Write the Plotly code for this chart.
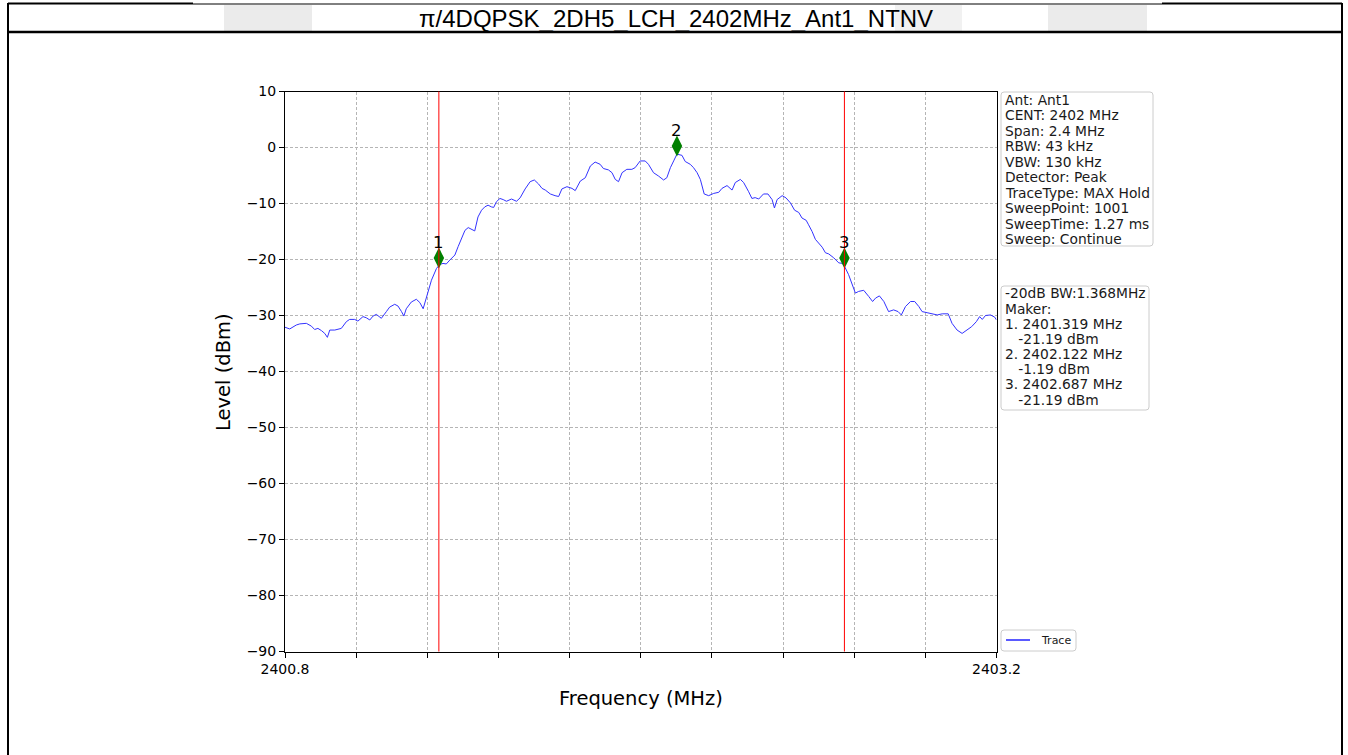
import plotly.graph_objects as go

W, H = 1348, 755

# ---------------- data ----------------
freq_mhz = [
    2400.800, 2400.816, 2400.838, 2400.850, 2400.872, 2400.889, 2400.900, 2400.911,
    2400.923, 2400.934, 2400.943, 2400.951, 2400.968, 2400.990, 2401.007, 2401.018,
    2401.035, 2401.046, 2401.063, 2401.074, 2401.086, 2401.097, 2401.108, 2401.125,
    2401.142, 2401.153, 2401.170, 2401.181, 2401.193, 2401.201, 2401.209, 2401.226,
    2401.243, 2401.255, 2401.266, 2401.277, 2401.294, 2401.311, 2401.322, 2401.333,
    2401.344, 2401.356, 2401.373, 2401.384, 2401.395, 2401.407, 2401.418, 2401.429,
    2401.440, 2401.451, 2401.463, 2401.474, 2401.485, 2401.496, 2401.504, 2401.513,
    2401.525, 2401.536, 2401.547, 2401.564, 2401.581, 2401.593, 2401.610, 2401.627,
    2401.641, 2401.655, 2401.667, 2401.678, 2401.695, 2401.711, 2401.723, 2401.734,
    2401.751, 2401.768, 2401.779, 2401.796, 2401.813, 2401.830, 2401.846, 2401.863,
    2401.874, 2401.891, 2401.903, 2401.914, 2401.925, 2401.937, 2401.953, 2401.970,
    2401.981, 2401.998, 2402.015, 2402.026, 2402.043, 2402.060, 2402.077, 2402.088,
    2402.100, 2402.111, 2402.122, 2402.139, 2402.150, 2402.167, 2402.178, 2402.190,
    2402.201, 2402.214, 2402.229, 2402.246, 2402.263, 2402.274, 2402.291, 2402.308,
    2402.319, 2402.336, 2402.347, 2402.364, 2402.375, 2402.386, 2402.398, 2402.414,
    2402.429, 2402.443, 2402.451, 2402.460, 2402.477, 2402.490, 2402.505, 2402.519,
    2402.533, 2402.544, 2402.558, 2402.566, 2402.578, 2402.589, 2402.600, 2402.612,
    2402.623, 2402.634, 2402.651, 2402.668, 2402.681, 2402.687, 2402.701, 2402.713,
    2402.724, 2402.735, 2402.752, 2402.769, 2402.782, 2402.792, 2402.805, 2402.820,
    2402.836, 2402.853, 2402.868, 2402.879, 2402.893, 2402.910, 2402.924, 2402.938,
    2402.949, 2402.966, 2402.983, 2403.000, 2403.017, 2403.037, 2403.050, 2403.067,
    2403.084, 2403.101, 2403.116, 2403.132, 2403.143, 2403.152, 2403.163, 2403.180,
    2403.194, 2403.200,
]
level_dbm = [
    -32.1, -32.4, -31.7, -31.5, -31.4, -31.9, -32.5, -32.3,
    -32.7, -33.2, -33.9, -32.6, -32.6, -32.3, -31.1, -30.7,
    -30.7, -31.0, -30.2, -30.4, -30.8, -30.1, -29.8, -30.5,
    -29.3, -28.5, -28.0, -28.3, -29.3, -30.1, -28.8, -27.6,
    -27.1, -27.7, -28.8, -26.7, -23.7, -21.6, -20.9, -20.7,
    -20.8, -20.1, -19.2, -17.7, -16.3, -14.8, -14.3, -14.6,
    -14.9, -12.4, -11.2, -10.6, -10.3, -10.6, -10.7, -9.7,
    -9.1, -9.3, -9.6, -9.2, -9.6, -9.0, -7.4, -6.1,
    -5.8, -6.5, -7.3, -7.6, -8.3, -8.6, -8.75, -7.4,
    -7.0, -7.3, -7.7, -6.0, -5.4, -3.3, -2.6, -3.0,
    -3.75, -4.0, -4.5, -5.7, -6.1, -4.5, -3.9, -3.9,
    -3.6, -2.4, -2.4, -3.0, -4.5, -5.1, -5.8, -5.4,
    -3.6, -2.4, -1.19, -1.4, -2.5, -3.0, -3.6, -4.5,
    -5.7, -8.3, -8.6, -8.2, -8.0, -7.3, -6.8, -7.6,
    -6.25, -5.7, -6.25, -7.9, -9.1, -8.95, -9.2, -8.3,
    -8.3, -9.3, -10.8, -9.3, -8.6, -9.0, -9.9, -11.2,
    -11.6, -12.6, -13.0, -13.8, -15.0, -16.4, -17.0, -17.8,
    -18.8, -19.0, -19.7, -20.6, -20.7, -21.19, -22.7, -24.5,
    -26.0, -25.7, -25.5, -26.6, -27.5, -26.9, -26.5, -27.5,
    -29.3, -29.0, -29.3, -29.9, -28.4, -27.5, -27.5, -28.4,
    -29.3, -29.5, -29.7, -29.9, -29.7, -29.7, -31.4, -32.6,
    -33.2, -32.6, -32.0, -31.1, -30.2, -30.7, -30.0, -29.9,
    -30.3, -30.8,
]

marker_ids = ["1", "2", "3"]
marker_freq = [2401.319, 2402.122, 2402.687]
marker_level = [-21.19, -1.19, -21.19]
bw_edges_mhz = [2401.319, 2402.687]

x_tick_vals = [2400.8, 2401.04, 2401.28, 2401.52, 2401.76, 2402.0,
               2402.24, 2402.48, 2402.72, 2402.96, 2403.2]
x_tick_text = ["2400.8", "", "", "", "", "", "", "", "", "", "2403.2"]
y_tick_vals = [10, 0, -10, -20, -30, -40, -50, -60, -70, -80, -90]
y_tick_text = ["10", "0", "\u221210", "\u221220", "\u221230", "\u221240",
               "\u221250", "\u221260", "\u221270", "\u221280", "\u221290"]

title_text = "\u03c0/4DQPSK_2DH5_LCH_2402MHz_Ant1_NTNV"
x_title = "Frequency (MHz)"
y_title = "Level (dBm)"
trace_name = "Trace"
info_lines = ["Ant: Ant1", "CENT: 2402 MHz", "Span: 2.4 MHz", "RBW: 43 kHz",
              "VBW: 130 kHz", "Detector: Peak", "TraceType: MAX Hold",
              "SweepPoint: 1001", "SweepTime: 1.27 ms", "Sweep: Continue"]
marker_lines = ["-20dB BW:1.368MHz", "Maker:",
                "1. 2401.319 MHz", "\u00a0\u00a0\u00a0-21.19 dBm",
                "2. 2402.122 MHz", "\u00a0\u00a0\u00a0-1.19 dBm",
                "3. 2402.687 MHz", "\u00a0\u00a0\u00a0-21.19 dBm"]

# ---------------- styling ----------------
MARKER_OFFSET_DB = 1.45
FONT = "DejaVu Sans"


def px(x):
    return x / W


def py(y):
    return 1 - y / H


def rounded_rect(x0, y0, x1, y1, r=3):
    rx, ry = r / W, r / H
    X0, X1 = px(x0), px(x1)
    Y0, Y1 = py(y0), py(y1)  # Y0 top (larger), Y1 bottom
    return (f"M {X0+rx},{Y0} L {X1-rx},{Y0} Q {X1},{Y0} {X1},{Y0-ry} "
            f"L {X1},{Y1+ry} Q {X1},{Y1} {X1-rx},{Y1} L {X0+rx},{Y1} "
            f"Q {X0},{Y1} {X0},{Y1+ry} L {X0},{Y0-ry} Q {X0},{Y0} {X0+rx},{Y0} Z")


fig = go.Figure()
fig.add_trace(go.Scatter(
    x=freq_mhz, y=level_dbm, mode="lines", name=trace_name,
    line=dict(color="#3333ff", width=1), showlegend=False, hoverinfo="x+y"))

fig.add_trace(go.Scatter(
    x=marker_freq, y=[v + MARKER_OFFSET_DB for v in marker_level], mode="markers",
    marker=dict(symbol="diamond-tall", size=15, color="#008000"),
    showlegend=False, hoverinfo="skip"))

shapes = []
# frame of the document table
shapes.append(dict(type="rect", xref="paper", yref="paper", layer="below",
                   x0=px(224), x1=px(312), y0=py(31), y1=py(5),
                   fillcolor="#ebebeb", line=dict(width=0)))
shapes.append(dict(type="rect", xref="paper", yref="paper", layer="below",
                   x0=px(895), x1=px(962), y0=py(31), y1=py(5),
                   fillcolor="#f1f1f1", line=dict(width=0)))
shapes.append(dict(type="rect", xref="paper", yref="paper", layer="below",
                   x0=px(1048), x1=px(1147), y0=py(31), y1=py(5),
                   fillcolor="#ebebeb", line=dict(width=0)))
for (x0, x1, y, w) in [(8, 193, 3.5, 2), (193, 1162, 4, 1), (1162, 1342, 3.5, 2),
                       (8, 1342, 32, 2.5)]:
    shapes.append(dict(type="line", xref="paper", yref="paper",
                       x0=px(x0), x1=px(x1), y0=py(y), y1=py(y),
                       line=dict(color="black", width=w)))
for x in (8, 1342):
    shapes.append(dict(type="line", xref="paper", yref="paper",
                       x0=px(x), x1=px(x), y0=py(3), y1=py(H),
                       line=dict(color="black", width=2)))

# -20 dB bandwidth edges
for f in bw_edges_mhz:
    shapes.append(dict(type="line", xref="x", yref="y domain", x0=f, x1=f, y0=0, y1=1,
                       line=dict(color="red", width=1)))

# info boxes
shapes.append(dict(type="path", xref="paper", yref="paper",
                   path=rounded_rect(1001, 92, 1153, 246),
                   fillcolor="rgba(255,255,255,0.8)", line=dict(color="#cccccc", width=1)))
shapes.append(dict(type="path", xref="paper", yref="paper",
                   path=rounded_rect(1001, 286, 1149, 410),
                   fillcolor="rgba(255,255,255,0.8)", line=dict(color="#cccccc", width=1)))
shapes.append(dict(type="path", xref="paper", yref="paper",
                   path=rounded_rect(1001, 630, 1076, 651),
                   fillcolor="rgba(255,255,255,0.8)", line=dict(color="#cccccc", width=1)))
shapes.append(dict(type="line", xref="paper", yref="paper",
                   x0=px(1006), x1=px(1030), y0=py(640), y1=py(640),
                   line=dict(color="#0000ff", width=1.3)))

annotations = []
annotations.append(dict(text=title_text, xref="paper", yref="paper", x=px(676), y=py(18),
                        xanchor="center", yanchor="middle", showarrow=False,
                        font=dict(family="Liberation Sans, Arial", size=24, color="black")))
annotations.append(dict(text=x_title, xref="paper", yref="paper", x=px(641), y=py(698),
                        xanchor="center", yanchor="middle", showarrow=False,
                        font=dict(family=FONT, size=19.5, color="black")))
annotations.append(dict(text=y_title, xref="paper", yref="paper", x=px(224), y=py(372),
                        xanchor="center", yanchor="middle", showarrow=False, textangle=-90,
                        font=dict(family=FONT, size=19.5, color="black")))
for i, line in enumerate(info_lines):
    annotations.append(dict(text=line, xref="paper", yref="paper",
                            x=px(1003), y=py(100 + i * 15.45),
                            xanchor="left", yanchor="middle", showarrow=False,
                            font=dict(family=FONT, size=13.8, color="#1a1a1a")))
for i, line in enumerate(marker_lines):
    annotations.append(dict(text=line, xref="paper", yref="paper",
                            x=px(1003), y=py(293.5 + i * 15.15),
                            xanchor="left", yanchor="middle", showarrow=False,
                            font=dict(family=FONT, size=13.8, color="#1a1a1a")))
annotations.append(dict(text=trace_name, xref="paper", yref="paper", x=px(1039), y=py(640),
                        xanchor="left", yanchor="middle", showarrow=False,
                        font=dict(family=FONT, size=11, color="#1a1a1a")))
for mid, f, v in zip(marker_ids, marker_freq, marker_level):
    annotations.append(dict(text=mid, xref="x", yref="y", x=f, y=v + MARKER_OFFSET_DB,
                            yshift=16, xanchor="center", yanchor="middle", showarrow=False,
                            font=dict(family=FONT, size=16.5, color="black")))

fig.update_layout(
    width=W, height=H, autosize=False,
    margin=dict(l=0, r=0, t=0, b=0, pad=0, autoexpand=False),
    paper_bgcolor="white", plot_bgcolor="white",
    shapes=shapes, annotations=annotations, showlegend=False,
    xaxis=dict(domain=[px(285), px(996.5)], range=[2400.8, 2403.2], automargin=False,
               tickmode="array", tickvals=x_tick_vals, ticktext=x_tick_text,
               ticks="outside", ticklen=5, tickwidth=1, tickcolor="black",
               showline=True, linecolor="black", linewidth=1, mirror=True,
               showgrid=True, gridcolor="#b5b5b5", gridwidth=0.8, griddash="3px,2px",
               zeroline=False, tickfont=dict(family=FONT, size=14, color="black")),
    yaxis=dict(domain=[py(651.5), py(91.5)], range=[-90, 10], automargin=False,
               tickmode="array", tickvals=y_tick_vals, ticktext=y_tick_text,
               ticks="outside", ticklen=5, tickwidth=1, tickcolor="black",
               showline=True, linecolor="black", linewidth=1, mirror=True,
               showgrid=True, gridcolor="#b5b5b5", gridwidth=0.8, griddash="3px,2px",
               zeroline=False, tickfont=dict(family=FONT, size=14, color="black")),
)

fig.write_html("out.html", config={"displayModeBar": False},
               post_script="document.body.style.margin='0';document.body.style.overflow='hidden';")
